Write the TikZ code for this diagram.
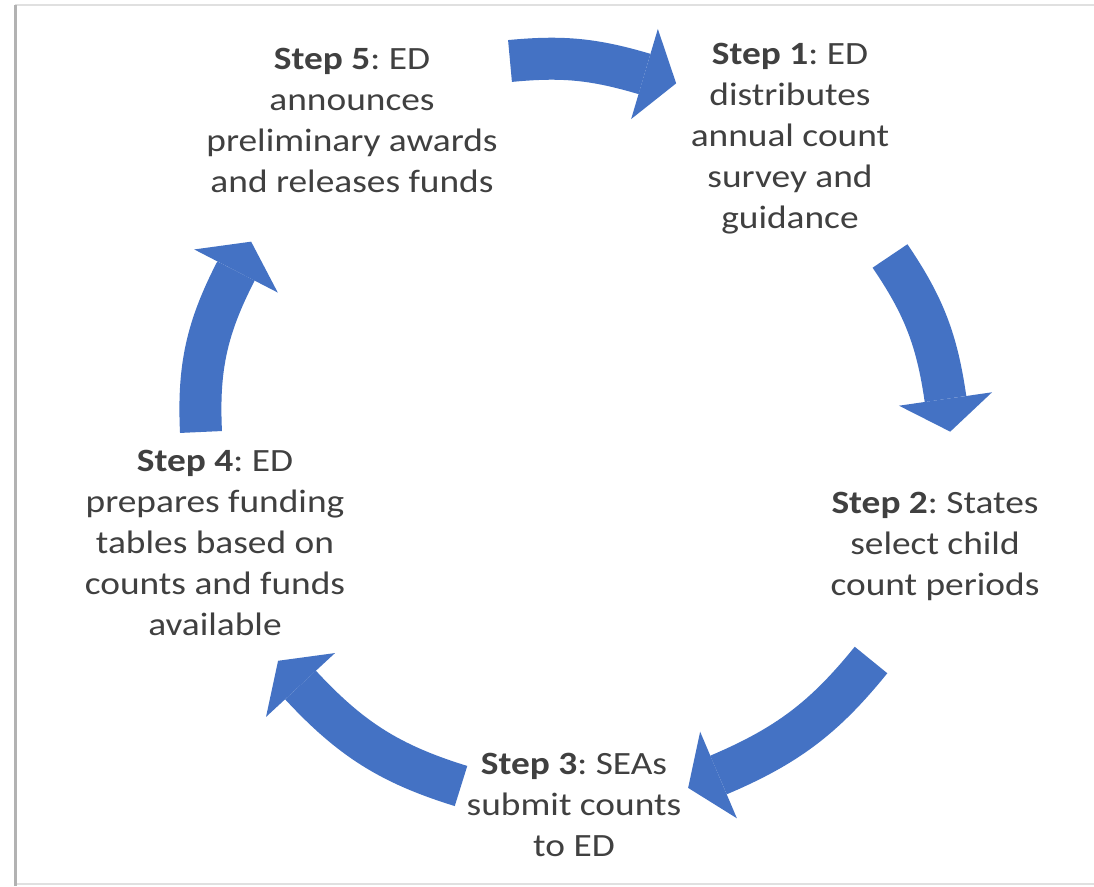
\documentclass[tikz,border=0pt]{standalone}
\usepackage{fontspec}
\setmainfont{Carlito}[FakeStretch=1.15]
\usetikzlibrary{calc}
\definecolor{arrowblue}{HTML}{4472C4}
\definecolor{txt}{HTML}{404040}
\newcommand\cyclearrow[4]{%
  \draw[shaft] (#1) to[bend left=#3] (#2);
  \fill[head] ($(#2)+(#4+90:47)$) -- ($(#2)+(#4:33)$) -- ($(#2)+(#4-90:47)$) -- cycle;}
\frenchspacing
\begin{document}
\begin{tikzpicture}[x=1pt,y=1pt,
  shaft/.style={draw=arrowblue, line width=42pt},
  head/.style={fill=arrowblue},
  steptext/.style={align=center, text=txt, inner sep=0pt, anchor=base,
    font=\fontsize{32.5}{41}\selectfont},
  frameshadow/.style={draw=black!30, line width=3pt},
  frameline/.style={draw=black!12, line width=1.5pt}]
\useasboundingbox (0,0) rectangle (1094,886);
\fill[white] (0,0) rectangle (1094,886);
% frame
\draw[frameline] (15,881) -- (1094,881);
\draw[frameline] (15,2) -- (1094,2);
\draw[frameshadow] (15,881) -- (15,0);
% texts (anchored at the baseline of the last line)
\node[steptext] (s5) at (352,693) {\textbf{Step 5}: ED\\announces\\preliminary awards\\and releases funds};
\node[steptext] (s1) at (790,657) {\textbf{Step 1}: ED\\distributes\\annual count\\survey and\\guidance};
\node[steptext] (s2) at (935,290.5) {\textbf{Step 2}: States\\select child\\count periods};
\node[steptext] (s3) at (574,29.5) {\textbf{Step 3}: SEAs\\submit counts\\to ED};
\node[steptext] (s4) at (215,250) {\textbf{Step 4}: ED\\prepares funding\\tables based on\\counts and funds\\available};
% arrow anchors
\coordinate (t1) at (510,825); \coordinate (b1) at (644.5,812);
\coordinate (t2) at (890,630); \coordinate (b2) at (945.5,487);
\coordinate (t3) at (871,226); \coordinate (b3) at (718.5,111);
\coordinate (t4) at (461,100); \coordinate (b4) at (300.5,201);
\coordinate (t5) at (201,454); \coordinate (b5) at (236,615);
\cyclearrow{t1}{b1}{11}{-16.5}
\cyclearrow{t2}{b2}{13}{-81.8}
\cyclearrow{t3}{b3}{14}{203}
\cyclearrow{t4}{b4}{15}{132.8}
\cyclearrow{t5}{b5}{15}{62.7}
\end{tikzpicture}
\end{document}
